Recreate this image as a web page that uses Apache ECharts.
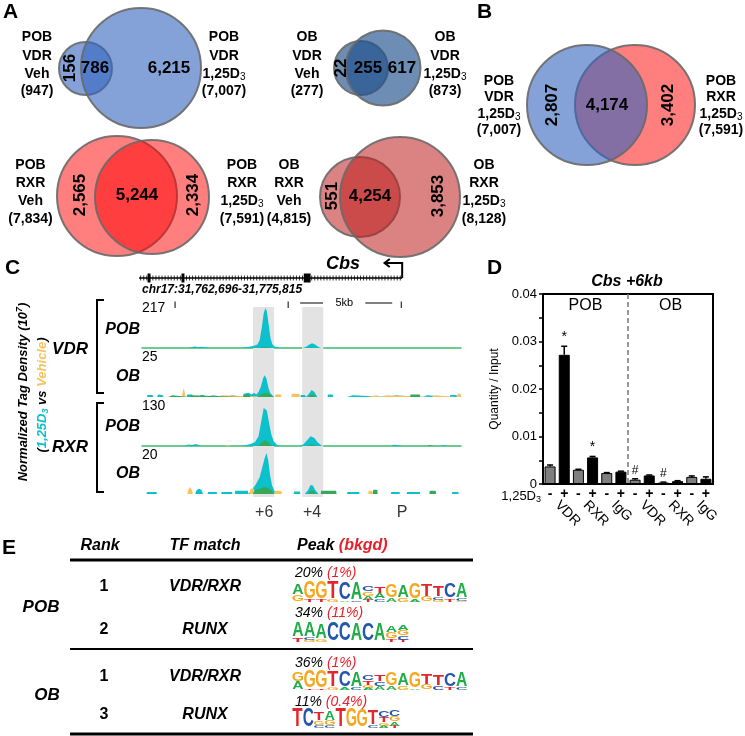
<!DOCTYPE html>
<html><head><meta charset="utf-8">
<script src="https://cdn.jsdelivr.net/npm/echarts@6/dist/echarts.min.js"></script>
<style>html,body{margin:0;padding:0;background:#fff}#c{width:745px;height:736px}</style>
</head><body><div id="c"></div>
<script>
// ================= DATA =================
// Panel A / B : Venn counts
const vennOnlyA  = ['156', '22', '2,565', '551', '2,807'];
const vennBoth   = ['786', '255', '5,244', '4,254', '4,174'];
const vennOnlyB  = ['6,215', '617', '2,334', '3,853', '3,402'];
const vennNamesA = [['POB','VDR','Veh'],['OB','VDR','Veh'],['POB','RXR','Veh'],['OB','RXR','Veh'],['POB','VDR','1,25D3']];
const vennTotalsA = ['(947)', '(277)', '(7,834)', '(4,815)', '(7,007)'];
const vennNamesB = [['POB','VDR','1,25D3'],['OB','VDR','1,25D3'],['POB','RXR','1,25D3'],['OB','RXR','1,25D3'],['POB','RXR','1,25D3']];
const vennTotalsB = ['(7,007)', '(873)', '(7,591)', '(8,128)', '(7,591)'];

// Panel C : genome tracks (position in kb from track start, tag density)
const trackCells = ['POB', 'OB', 'POB', 'OB'];
const trackFactors = ['VDR', 'RXR'];
const trackMax = [217, 25, 130, 20];
const t1D3 = [[0,0],[2.1,0],[2.2,5],[2.35,8],[2.5,4],[2.6,7],[2.8,4],[2.95,0],[4.45,0],[4.55,4],[4.75,7],[4.95,11],[5.1,18],[5.2,40],[5.3,110],[5.38,180],[5.45,205],[5.52,190],[5.6,120],[5.68,50],[5.76,20],[5.86,8],[6.0,3],[6.1,0],[7.1,0],[7.25,6],[7.4,18],[7.52,25],[7.65,18],[7.8,5],[7.92,0],[14.1,0]];
const t1Veh = [[1.95,0],[2.0,3],[2.1,0]];
const t1Both = [[2.2,0],[2.3,3],[2.45,0],[5.2,0],[5.35,5],[5.55,4],[5.7,0],[7.35,0],[7.5,3],[7.65,0]];
const t2D3 = [[0,0],[0.22,0],[0.24,1.2],[0.47,1.2],[0.49,0],[0.66,0],[0.72,1.5],[0.8,2.2],[0.9,1.2],[0.95,0],[1.97,0],[2.0,1.5],[2.22,1.5],[2.25,0],[2.56,0],[2.58,1.2],[2.75,1.2],[2.77,0],[2.9,0],[2.92,1],[3.12,1],[3.14,0],[3.76,0],[3.78,1],[3.98,1],[4.0,0],[4.45,0],[4.5,2],[4.7,2.5],[4.85,1.5],[4.95,2.5],[5.05,1.5],[5.15,3],[5.25,6],[5.35,11],[5.42,13],[5.5,11],[5.58,6],[5.66,2.5],[5.75,1],[5.85,0],[7.0,0],[7.02,1.2],[7.2,1.2],[7.25,0],[7.38,2],[7.5,4.2],[7.62,3],[7.75,0],[8.2,0],[8.22,1.5],[8.43,1.5],[8.45,0],[9.06,0],[9.08,1],[9.31,1],[9.33,0],[10.96,0],[10.98,1],[11.18,1],[11.2,0],[12.4,0],[12.42,1],[12.6,1],[12.62,0],[13.6,0],[13.62,1.2],[13.9,1.2],[13.92,0],[14.1,0]];
const t2Veh = [[1.76,0],[1.8,3],[1.85,5.2],[1.9,2],[1.93,0],[3.3,0],[3.32,1],[3.5,1],[3.52,0],[5.88,0],[5.9,1.5],[6.15,1.5],[6.17,0],[6.6,0],[6.62,2],[6.95,2],[6.98,0],[9.95,0],[9.97,1],[10.38,1],[10.4,0],[10.5,0],[10.52,1],[10.8,1],[10.82,0],[12.8,0],[12.82,1],[12.95,1],[12.97,0],[13.92,0],[13.95,2],[14.08,2],[14.1,0]];
const t2Both = [[1.15,0],[1.17,1],[1.35,1],[1.37,0],[2.05,0],[2.07,1],[2.18,1],[2.2,0],[4.47,0],[4.5,1.5],[4.75,1.5],[4.78,0],[5.1,0],[5.3,2],[5.5,2.5],[5.7,1.5],[5.8,0],[7.35,0],[7.45,1.5],[7.6,1.2],[7.7,0],[11.85,0],[11.87,1.5],[12.28,1.5],[12.3,0]];
const t3D3 = [[0,0],[1.9,0],[2.05,5],[2.2,3],[2.4,6],[2.6,0],[4.4,0],[4.6,3],[4.8,6],[5.0,12],[5.15,30],[5.28,80],[5.38,118],[5.45,124],[5.52,110],[5.62,70],[5.72,35],[5.82,15],[5.95,5],[6.1,0],[7.0,0],[7.15,6],[7.3,18],[7.45,30],[7.52,33],[7.62,25],[7.75,12],[7.9,3],[8.0,0],[11.0,0],[11.1,4],[11.3,3],[11.5,0],[13.2,0],[13.3,3],[13.5,0],[14.1,0]];
const t3Veh = [[3.7,0],[3.8,4],[3.95,0],[6.8,0],[6.88,3],[6.98,0]];
const t3Both = [[2.1,0],[2.2,3],[2.35,0],[5.1,0],[5.25,8],[5.4,18],[5.5,16],[5.65,6],[5.8,0],[7.3,0],[7.45,5],[7.6,3],[7.75,0],[12.6,0],[12.7,3],[12.9,0]];
const t4D3 = [[0,0],[0.2,0],[0.22,1],[0.64,1],[0.66,0],[2.35,0],[2.4,1.5],[2.5,2.5],[2.62,2],[2.7,0],[2.9,0],[2.92,1],[3.3,1],[3.32,0],[3.5,0],[3.52,1],[3.98,1],[4.0,0],[4.1,0],[4.12,1.5],[4.68,1.5],[4.7,0],[4.85,2],[5.0,4],[5.1,6],[5.2,8],[5.3,12],[5.42,17],[5.5,19.5],[5.58,16],[5.66,9],[5.75,4],[5.85,1.5],[5.95,0],[6.7,0],[6.72,1.2],[6.98,1.2],[7.0,0],[7.2,0],[7.35,2],[7.45,4.3],[7.55,4],[7.65,2],[7.8,0],[9.06,0],[9.08,1],[9.6,1],[9.62,0],[11.0,0],[11.02,1],[11.38,1],[11.4,0],[11.7,0],[11.72,1],[12.28,1],[12.3,0],[13.7,0],[13.72,1],[13.98,1],[14.0,0],[14.1,0]];
const t4Veh = [[2.0,0],[2.05,2],[2.12,3.3],[2.2,2],[2.25,0],[4.75,0],[4.8,2.5],[4.95,2.5],[5.0,0],[5.8,0],[5.9,1.5],[6.15,1.5],[6.2,0],[10.0,0],[10.02,1.5],[10.18,1.5],[10.2,0]];
const t4Both = [[4.9,0],[5.0,2],[5.2,2.5],[5.4,3.3],[5.55,3],[5.7,2],[5.85,0],[7.35,0],[7.45,1.5],[7.6,1.5],[7.7,0],[7.9,0],[7.92,1.5],[8.58,1.5],[8.6,0],[10.2,0],[10.22,2],[10.4,2],[10.42,0],[12.7,0],[12.72,1.5],[12.98,1.5],[13.0,0]];
const geneSpan = [-0.13, 11.5];
const geneExons = [0.31, 1.81, 7.30];
const geneExonW = [0.13, 0.13, 0.3];
const scaleTicks = [1.46, 6.46, 11.46];
const scaleBarLines = [[6.99, 8.0], [9.87, 11.06]];
const scaleLabel = '5kb';
const locusLabel = 'chr17:31,762,696-31,775,815';
const bandRanges = [[4.91, 5.84], [7.08, 8.01]];
const bandLabels = ['+6', '+4', 'P'];
const bandLabelPos = [5.4, 7.52, 11.5];

// Panel D : ChIP-qPCR
const chipTreat = ['-','+','-','+','-','+','-','+','-','+','-','+'];
const chipGroups = ['VDR','RXR','IgG','VDR','RXR','IgG'];
const chipCells = ['POB','OB'];
const chipValues = [0.0037,0.0272,0.0030,0.0056,0.0023,0.0026,0.0009,0.0018,0.0003,0.0006,0.0015,0.0011];
const chipErrors = [0.0003,0.0018,0.0001,0.0002,0.0001,0.0001,0.0002,0.0001,0.0001,0.0001,0.0002,0.0004];
const chipSig = ['','*','','*','','','#','','#','','',''];

// Panel E : motif table
const tableCells = ['POB', 'OB'];
const tableRanks = ['1', '2', '1', '3'];
const tableTF = ['VDR/RXR', 'RUNX', 'VDR/RXR', 'RUNX'];
const peakPct = ['20%', '34%', '36%', '11%'];
const bkgdPct = ['(1%)', '(11%)', '(1%)', '(0.4%)'];
const motif1 = ['A11G7','G17T2','G17T2','T17G2','C17A1','A17C1','C5G4A4T2','T7A5C3','G13A4','A12G4','G16A2','T12G5','T11C3G2','C14T3','A14C2G1'];
const motif2 = ['A14T4','A14C2G2','A15G2','C18','C18','A17','C17','A17','A7G6T3','A5G5C4T2'];
const motif3 = ['G9A8','G17T1','G17T1','T16G2','C16A2','A15C2','C5T4G3A2','T7C4A4','G13A4','A12G4','G16A1','T11G5','T11C4','C13T3','A14C2'];
const motif4 = ['T19','C18','T8G4C3','A9G5C2','T18','G18','G17','T15C2','C6T5G3A2','C6G5A4T2'];

// ================= STYLE / LAYOUT =================
const FONT = "'Liberation Sans', Arial, Helvetica, sans-serif";
const f = (size, weight = 'bold', style = 'normal') => `${style} ${weight} ${size}px ${FONT}`;
const CYAN = '#0cc0cc', YEL = '#f6c35e', GRN = '#36a85c';
const G = [];
function txt(x, y, text, o = {}) {
  const el = {type: 'text', x, y, rotation: o.rot || 0, z: o.z || 20, silent: true,
    style: {text, font: o.font || f(14), fill: o.color || '#000',
      textAlign: o.align || 'center', align: o.align || 'center',
      textVerticalAlign: o.va || 'middle', verticalAlign: o.va || 'middle'}};
  if (o.rich) el.style.rich = o.rich;
  G.push(el);
}
function richTok(size, weight, style, color, va) {
  const t = {fontSize: size, fontWeight: weight, fontStyle: style, fontFamily: FONT, fill: color || '#000', color: color || '#000', lineHeight: 16};
  if (va) t.verticalAlign = va;
  return t;
}
function vennLine(x, y, s, size) {
  if (s === '1,25D3') {
    txt(x, y, '{m|1,25D}{s|3}', {rich: {m: richTok(size, 'bold', 'normal'), s: richTok(size - 4, 'normal', 'normal', '#000', 'bottom')}});
  } else txt(x, y, s, {font: f(size)});
}
function line(x1, y1, x2, y2, w, color, dash) {
  G.push({type: 'line', silent: true, z: 20, shape: {x1, y1, x2, y2}, style: {stroke: color || '#000', lineWidth: w, lineDash: dash}});
}

// Venn layouts
const vennLayout = [
  {a: [85.5, 68.5, 26.5], b: [141, 68, 60], fa: 'rgba(50,100,190,0.6)', fb: 'rgba(50,100,190,0.6)', labA: 37, labB: 224, rows: [37.5, 56, 74, 91.5], numY: 68, numX: [70, 95, 169], rot: [true, false, false]},
  {a: [361, 68, 27], b: [383, 68, 37.5], fa: 'rgba(30,80,140,0.65)', fb: 'rgba(30,80,140,0.65)', labA: 307, labB: 445, rows: [37.5, 56, 74, 91.5], numY: 68, numX: [341, 368, 402], rot: [true, false, false]},
  {a: [117, 196, 60], b: [152, 197, 57], fa: 'rgba(255,0,0,0.5)', fb: 'rgba(255,0,0,0.5)', labA: 30.5, labB: 242, rows: [165.5, 183.5, 201, 219], numY: 195, numX: [80, 137, 193], rot: [true, false, true]},
  {a: [360, 197, 40], b: [400, 197, 60], fa: 'rgba(190,30,30,0.55)', fb: 'rgba(190,30,30,0.55)', labA: 289, labB: 484, rows: [165.5, 183.5, 201, 219], numY: 196, numX: [332, 370, 438], rot: [true, false, true]},
  {a: [587, 105, 60], b: [635, 105, 60], fa: 'rgba(50,100,190,0.6)', fb: 'rgba(255,0,0,0.5)', bFirst: true, labA: 499, labB: 721, rows: [81, 97.5, 114, 130.5], numY: 105, numX: [552, 607, 668], rot: [true, false, true]}
];
vennLayout.forEach((L, i) => {
  const circ = (c, fill) => G.push({type: 'circle', silent: true, z: 5, shape: {cx: c[0], cy: c[1], r: c[2]}, style: {fill, stroke: 'rgba(105,105,105,0.9)', lineWidth: 2}});
  if (L.bFirst) { circ(L.b, L.fb); circ(L.a, L.fa); } else { circ(L.a, L.fa); circ(L.b, L.fb); }
  const nums = [vennOnlyA[i], vennBoth[i], vennOnlyB[i]];
  nums.forEach((n, k) => txt(L.numX[k], L.numY, n, {font: f(17), rot: L.rot[k] ? Math.PI / 2 : 0}));
  vennNamesA[i].forEach((s, k) => vennLine(L.labA, L.rows[k], s, 14));
  txt(L.labA, L.rows[3], vennTotalsA[i], {font: f(14)});
  vennNamesB[i].forEach((s, k) => vennLine(L.labB, L.rows[k], s, 14));
  txt(L.labB, L.rows[3], vennTotalsB[i], {font: f(14)});
});

// panel letters
txt(3, 2, 'A', {font: f(21), align: 'left', va: 'top'});
txt(477, 2, 'B', {font: f(21), align: 'left', va: 'top'});
txt(5, 258, 'C', {font: f(21), align: 'left', va: 'top'});
txt(487, 258, 'D', {font: f(21), align: 'left', va: 'top'});
txt(2, 538, 'E', {font: f(21), align: 'left', va: 'top'});

// Panel C labels
txt(23, 392, '{a|Normalized Tag Density (10}{b|7}{a|)}', {rot: Math.PI / 2, rich: {a: richTok(13, 'bold', 'italic'), b: richTok(9, 'bold', 'italic', '#000', 'top')}});
txt(42, 395, '{k|(}{c|1,25D}{cs|3}{k| vs }{y|Vehicle}{k|)}', {rot: Math.PI / 2, rich: {
  k: richTok(13, 'bold', 'italic'), c: richTok(13, 'bold', 'italic', CYAN), cs: richTok(9, 'bold', 'italic', CYAN, 'bottom'), y: richTok(13, 'bold', 'italic', YEL)}});
txt(70, 349, trackFactors[0], {font: f(17, 'bold', 'italic')});
txt(70, 447, trackFactors[1], {font: f(17, 'bold', 'italic')});
G.push({type: 'polyline', silent: true, z: 20, shape: {points: [[104, 300], [97, 300], [97, 393], [104, 393]]}, style: {stroke: '#000', lineWidth: 2, fill: null}});
G.push({type: 'polyline', silent: true, z: 20, shape: {points: [[104, 403], [97, 403], [97, 492], [104, 492]]}, style: {stroke: '#000', lineWidth: 2, fill: null}});
const trackLabelY = [330, 377, 427, 474];
const trackMaxY = [308, 357, 406, 455];
trackCells.forEach((c, i) => {
  txt(140, trackLabelY[i], c, {font: f(16, 'bold', 'italic'), align: 'right'});
  txt(142, trackMaxY[i], String(trackMax[i]), {font: f(14, 'normal'), align: 'left'});
});
txt(343, 264, 'Cbs', {font: f(18, 'bold', 'italic')});
txt(142, 290, locusLabel, {font: f(12, 'bold', 'italic'), align: 'left'});

// Panel D labels
txt(627, 282, 'Cbs +6kb', {font: f(16, 'bold', 'italic')});
txt(541, 496, '{m|1,25D}{s|3}', {align: 'right', rich: {m: richTok(13, 'normal', 'normal'), s: richTok(9, 'normal', 'normal', '#000', 'bottom')}});

// Panel E table
const red = '#e8202a';
txt(100, 546, 'Rank', {font: f(16, 'bold', 'italic')});
txt(205, 546, 'TF match', {font: f(16, 'bold', 'italic')});
txt(297, 546, '{k|Peak }{r|(bkgd)}', {align: 'left', rich: {k: richTok(16, 'bold', 'italic'), r: richTok(16, 'bold', 'italic', red)}});
line(70, 560, 473, 560, 3);
line(70, 649, 473, 649, 2);
line(70, 734, 473, 734, 3);
txt(41, 607, tableCells[0], {font: f(17, 'bold', 'italic')});
txt(47, 695, tableCells[1], {font: f(17, 'bold', 'italic')});
const rowY = [587, 630, 677, 715];
const pctY = [573, 613, 663, 702];
tableRanks.forEach((r, i) => {
  txt(104, rowY[i], r, {font: f(16)});
  txt(205, rowY[i], tableTF[i], {font: f(16, 'bold', 'italic')});
  txt(295, pctY[i], `{k|${peakPct[i]} }{r|${bkgdPct[i]}}`, {align: 'left', rich: {k: richTok(14, 'normal', 'italic'), r: richTok(14, 'normal', 'italic', red)}});
});
const letterColor = {A: '#22ad4b', C: '#2456aa', G: '#f5a81f', T: '#e3262d'};
const letterW = {A: 0.70, C: 0.66, G: 0.70, T: 0.60};
function drawMotif(cols, left, bottom, colW) {
  cols.forEach((colStr, ci) => {
    const stack = [...colStr.matchAll(/([ACGT])(\d+(?:\.\d+)?)/g)].map(m => [m[1], +m[2]]);
    const cx = left + colW * (ci + 0.5);
    let y = bottom;
    for (let k = stack.length - 1; k >= 0; k--) {
      const [Lt, h] = stack[k];
      const F = 20;
      G.push({type: 'text', silent: true, z: 20, x: cx, y: y - h / 2, scaleX: (colW * 0.94) / (letterW[Lt] * F), scaleY: h / (0.716 * F),
        style: {text: Lt, fill: letterColor[Lt], font: f(F), textAlign: 'center', align: 'center', textVerticalAlign: 'middle', verticalAlign: 'middle'}});
      y -= h;
    }
  });
}
drawMotif(motif1, 292, 602, 11.7);
drawMotif(motif2, 292, 642, 11.7);
drawMotif(motif3, 292, 690, 11.7);
drawMotif(motif4, 292, 728, 10.8);

// ================= CHART =================
const grids = [
  {left: 137.5, right: 284, top: 250, height: 60},
  {left: 142, right: 284, top: 306, height: 42},
  {left: 142, right: 284, top: 355, height: 42},
  {left: 142, right: 284, top: 404, height: 42},
  {left: 142, right: 284, top: 452, height: 42},
  {left: 142, right: 284, top: 307, height: 190},
  {left: 543, right: 32, top: 294, height: 190, show: true, borderColor: '#000', borderWidth: 2}
].map(g => Object.assign({outerBoundsMode: 'none', containLabel: false}, g));

const xAxes = [
  {type: 'value', gridIndex: 0, min: -0.2, max: 14.1, show: false},
  ...[1, 2, 3, 4].map(g => ({type: 'value', gridIndex: g, min: 0, max: 14.1,
    axisLine: {show: g === 1 || g === 3, onZero: false, lineStyle: {color: '#3dba6e', width: 1.5}},
    axisTick: {show: false}, axisLabel: {show: false}, splitLine: {show: false}})),
  {type: 'value', gridIndex: 5, min: 0, max: 14.1, show: false},
  {type: 'category', gridIndex: 6, data: chipTreat.map((_, i) => String(i)),
    axisLine: {lineStyle: {color: '#000', width: 2}}, axisTick: {show: false},
    axisLabel: {formatter: (v, i) => chipTreat[i], fontSize: 14, fontWeight: 'bold', color: '#000', margin: 3, fontFamily: FONT}},
  {type: 'category', gridIndex: 6, position: 'bottom', data: chipGroups.map((_, i) => 'g' + i),
    axisLine: {show: false}, axisTick: {show: false},
    axisLabel: {formatter: (v, i) => chipGroups[i], rotate: -45, fontSize: 14, color: '#000', margin: 19, fontFamily: FONT}}
];
const yAxes = [
  {type: 'value', gridIndex: 0, min: 0, max: 60, inverse: true, show: false},
  ...[1, 2, 3, 4].map(g => ({type: 'value', gridIndex: g, min: 0, max: trackMax[g - 1], show: false})),
  {type: 'value', gridIndex: 5, min: 0, max: 1, show: false},
  {type: 'value', gridIndex: 6, min: 0, max: 0.04, interval: 0.005,
    axisLine: {show: true, lineStyle: {color: '#000', width: 2}},
    axisTick: {show: true, length: 4, lineStyle: {color: '#000', width: 1.5}},
    splitLine: {show: false},
    axisLabel: {fontSize: 13, color: '#000', margin: 6, fontFamily: FONT,
      formatter: v => { const m = Math.round(v * 1000); return m % 10 === 0 ? (m === 0 ? '0' : (m / 1000).toFixed(2)) : ''; }},
    name: 'Quantity / Input', nameLocation: 'middle', nameGap: 42, nameTextStyle: {fontSize: 12, color: '#000', fontFamily: FONT}}
];

const series = [];
// gene model + scale bar
series.push({type: 'custom', xAxisIndex: 0, yAxisIndex: 0, data: [[0, 0]], silent: true, z: 5,
  renderItem: (p, api) => {
    const X = k => api.coord([k, 0])[0];
    const Y = v => api.coord([0, v])[1];
    const ch = [];
    const yl = Y(28);
    ch.push({type: 'line', shape: {x1: X(geneSpan[0]), y1: yl, x2: X(geneSpan[1]), y2: yl}, style: {stroke: '#000', lineWidth: 1.5}});
    for (let k = geneSpan[0] + 0.07; k < geneSpan[1]; k += 0.135)
      ch.push({type: 'line', shape: {x1: X(k), y1: yl - 2.5, x2: X(k), y2: yl + 2.5}, style: {stroke: '#000', lineWidth: 0.8}});
    geneExons.forEach((e, i) => ch.push({type: 'rect', shape: {x: X(e - geneExonW[i] / 2), y: yl - 4.5, width: X(e + geneExonW[i] / 2) - X(e - geneExonW[i] / 2), height: 9}, style: {fill: '#000'}}));
    const xt = X(geneSpan[1]), ya = Y(13);
    ch.push({type: 'polyline', shape: {points: [[xt, yl], [xt, ya], [X(10.7), ya]]}, style: {stroke: '#000', lineWidth: 2, fill: null}});
    ch.push({type: 'polyline', shape: {points: [[X(10.95), ya - 4], [X(10.72), ya], [X(10.95), ya + 4]]}, style: {stroke: '#000', lineWidth: 2, fill: null}});
    scaleTicks.forEach(t => ch.push({type: 'line', shape: {x1: X(t), y1: Y(51.5), x2: X(t), y2: Y(58)}, style: {stroke: '#000', lineWidth: 1}}));
    scaleBarLines.forEach(s => ch.push({type: 'line', shape: {x1: X(s[0]), y1: Y(53), x2: X(s[1]), y2: Y(53)}, style: {stroke: '#000', lineWidth: 1}}));
    ch.push({type: 'text', x: X(8.94), y: Y(53), style: {text: scaleLabel, font: f(11, 'normal'), fill: '#000', align: 'center', verticalAlign: 'middle'}});
    return {type: 'group', children: ch};
  }});
// bands and position labels
series.push({type: 'scatter', xAxisIndex: 5, yAxisIndex: 5, z: 1, silent: true, symbolSize: 1,
  itemStyle: {color: 'rgba(0,0,0,0)'},
  data: bandLabelPos.map((x, i) => ({value: [x, 0], name: bandLabels[i]})),
  label: {show: true, position: 'bottom', distance: 7, formatter: '{b}', fontSize: 16, color: '#000', fontFamily: FONT},
  markArea: {silent: true, itemStyle: {color: '#e3e3e3'}, data: bandRanges.map(r => [{xAxis: r[0]}, {xAxis: r[1]}])}});
// tracks
const trackSets = [[t1D3, t1Veh, t1Both], [t2D3, t2Veh, t2Both], [t3D3, t3Veh, t3Both], [t4D3, t4Veh, t4Both]];
const area = (data, g, color) => ({type: 'line', xAxisIndex: g, yAxisIndex: g, data, symbol: 'none', showSymbol: false,
  lineStyle: {width: 0, opacity: 0}, areaStyle: {color, opacity: 1}, z: 3, silent: true});
trackSets.forEach((s, i) => {
  series.push(area(s[0], i + 1, CYAN));
  series.push(area(s[1], i + 1, YEL));
  series.push(area(s[2], i + 1, GRN));
});
// bar chart
series.push({type: 'bar', xAxisIndex: 6, yAxisIndex: 6, barWidth: 11, z: 3,
  data: chipValues.map((v, i) => ({value: v, itemStyle: {color: chipTreat[i] === '-' ? '#7f7f7f' : '#000', borderColor: '#000', borderWidth: 1}}))});
series.push({type: 'custom', xAxisIndex: 6, yAxisIndex: 6, z: 5, silent: true,
  data: chipValues.map((v, i) => [i, v, chipErrors[i]]),
  renderItem: (p, api) => {
    const i = api.value(0), v = api.value(1), e = api.value(2);
    const b = api.coord([i, v]), t = api.coord([i, v + e]);
    const ch = [];
    ch.push({type: 'line', shape: {x1: b[0], y1: b[1], x2: t[0], y2: t[1]}, style: {stroke: '#000', lineWidth: 1.5}});
    ch.push({type: 'line', shape: {x1: t[0] - 3, y1: t[1], x2: t[0] + 3, y2: t[1]}, style: {stroke: '#000', lineWidth: 1.5}});
    const s = chipSig[p.dataIndex];
    if (s) ch.push({type: 'text', x: t[0], y: t[1] - 2, style: {text: s, font: f(s === '#' ? 12 : 14, 'normal'), fill: '#000', align: 'center', verticalAlign: 'bottom'}});
    return {type: 'group', children: ch};
  }});
series.push({type: 'custom', xAxisIndex: 6, yAxisIndex: 6, z: 4, silent: true, data: [[0, 0]],
  renderItem: (p, api) => {
    const cx = i => api.coord([i, 0])[0];
    const xm = (cx(5) + cx(6)) / 2;
    const yb = api.coord([0, 0])[1], yt = api.coord([0, 0.04])[1], yl = api.coord([0, 0.0375])[1];
    return {type: 'group', children: [
      {type: 'line', shape: {x1: xm, y1: yt, x2: xm, y2: yb}, style: {stroke: '#777', lineWidth: 1.5, lineDash: [5, 3]}},
      {type: 'text', x: (cx(0) + cx(5)) / 2, y: yl, style: {text: chipCells[0], font: f(16, 'normal'), fill: '#000', align: 'center', verticalAlign: 'middle'}},
      {type: 'text', x: (cx(6) + cx(11)) / 2, y: yl, style: {text: chipCells[1], font: f(16, 'normal'), fill: '#000', align: 'center', verticalAlign: 'middle'}}
    ]};
  }});

const chart = echarts.init(document.getElementById('c'), null, {renderer: 'canvas', width: 745, height: 736});
chart.setOption({
  animation: false,
  backgroundColor: '#fff',
  textStyle: {fontFamily: FONT},
  grid: grids, xAxis: xAxes, yAxis: yAxes, series, graphic: {elements: G}
});
</script></body></html>
